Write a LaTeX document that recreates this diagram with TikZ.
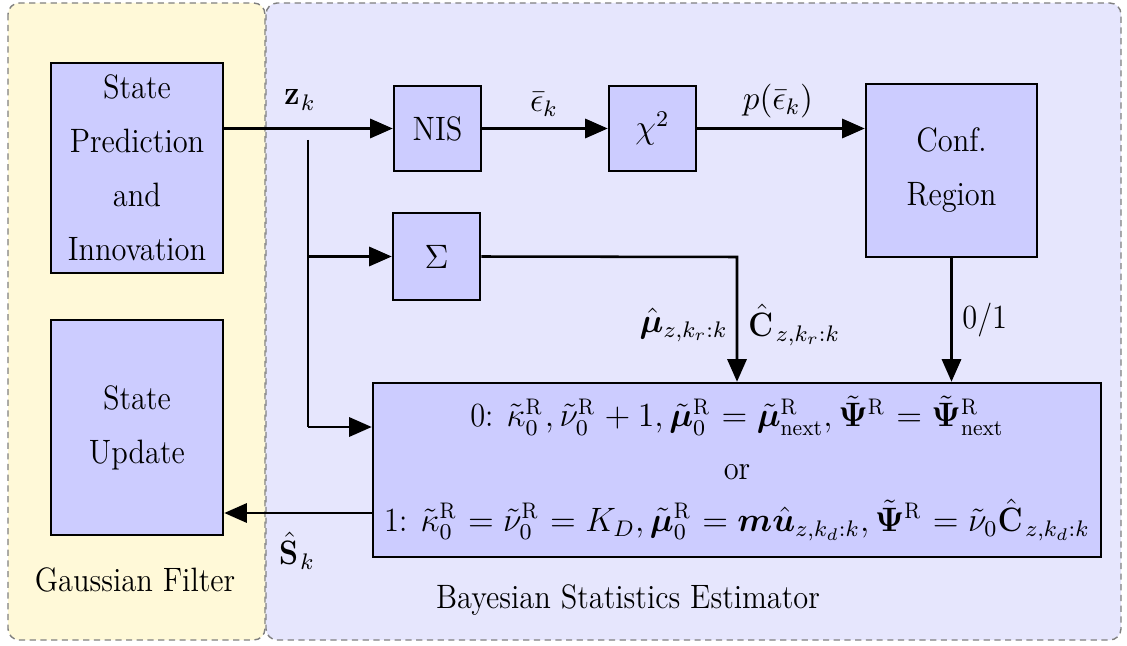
\documentclass[tikz,border=0pt]{standalone}
\usepackage{amsmath}
\usepackage{bm}
\usepackage{fontspec}
\setmainfont{Latin Modern Roman}[FakeStretch=0.9]
\usetikzlibrary{arrows.meta}
\definecolor{gfyellow}{RGB}{255,249,216}
\definecolor{bsblue}{RGB}{230,230,253}
\definecolor{boxblue}{RGB}{204,204,255}
\newcommand{\PsiR}{\smash[t]{\tilde{\bm{\Psi}}}^{\mathrm{R}}}
\tikzset{
  blk/.style={draw, line width=0.9pt, fill=boxblue, inner sep=0pt, align=center,
    font=\fontsize{12}{19.2}\selectfont},
  arr/.style={line width=0.9pt, -{Triangle[length=8pt,width=6.8pt]}},
  ln/.style={line width=0.9pt},
  region/.style={draw=gray, line width=0.5pt, dash pattern=on 2.2pt off 1.6pt, rounded corners=4pt},
  lbl/.style={font=\fontsize{12}{14}\selectfont, inner sep=1pt}
}
\begin{document}
\begin{tikzpicture}[x=0.3549pt, y=-0.3549pt]
\useasboundingbox (0,0) rectangle (1127,646);
% regions
\draw[region, fill=gfyellow] (8,3) rectangle (265,640);
\draw[region, fill=bsblue] (266,3) rectangle (1121,640);
% blocks
\node[blk, minimum width=172*0.3549pt, minimum height=210*0.3549pt] (sp) at (137,168) {State\\Prediction\\and\\Innovation};
\node[blk, minimum width=172*0.3549pt, minimum height=215*0.3549pt] (su) at (137,427.5) {State\\Update};
\node[blk, minimum width=87*0.3549pt, minimum height=85*0.3549pt] (nis) at (437.5,128.5) {NIS};
\node[blk, minimum width=87*0.3549pt, minimum height=85*0.3549pt] (chi) at (652.5,128.5) {$\chi^2$};
\node[blk, minimum width=171*0.3549pt, minimum height=173*0.3549pt] (conf) at (951.5,170.5) {Conf.\\Region};
\node[blk, minimum width=87*0.3549pt, minimum height=87*0.3549pt] (sig) at (436.5,256.5) {$\Sigma$};
\node[blk, minimum width=728*0.3549pt, minimum height=174*0.3549pt, font=\fontsize{12}{18.5}\selectfont] (big) at (737,470)
{0: $\tilde{\kappa}_0^{\mathrm{R}}, \tilde{\nu}_0^{\mathrm{R}}+1, \tilde{\bm{\mu}}_0^{\mathrm{R}} = \tilde{\bm{\mu}}^{\mathrm{R}}_{\text{next}}, \PsiR = \PsiR_{\text{next}}$\\
or\\
1: $\tilde{\kappa}_0^{\mathrm{R}} = \tilde{\nu}_0^{\mathrm{R}} = K_D, \tilde{\bm{\mu}}_0^{\mathrm{R}} = \bm{m}\hat{\bm{u}}_{z,k_d:k}, \PsiR = \tilde{\nu}_0\hat{\mathbf{C}}_{z,k_d:k}$};
% region labels
\node[lbl] (gf) at (135,580) {Gaussian Filter};
\node[lbl] (bse) at (628,600) {Bayesian Statistics Estimator};
% coordinates
\coordinate (jt) at (308,140);
\coordinate (jb) at (308,427);
\coordinate (sc) at (737,257);
\coordinate (sk) at (373,513);
% connectors
\draw[arr] (sp.east |- nis) -- (nis);
\draw[arr] (nis) -- (chi);
\draw[arr] (chi) -- (chi -| conf.west);
\draw[ln] (jt) -- (jb);
\draw[arr] (jb) -- (jb -| big.west);
\draw[arr] (jt |- sig) -- (sig);
\draw[arr] (sig.east) -- (sc) -- (sc |- big.north);
\draw[arr] (conf.south) -- (conf.south |- big.north);
\draw[arr] (sk) -- (sk -| su.east);
% labels
\node[lbl] (lz) at (300,100) {$\mathbf{z}_k$};
\node[lbl] (leps) at (544,104) {$\bar{\epsilon}_k$};
\node[lbl] (lp) at (778,101) {$p(\bar{\epsilon}_k)$};
\node[lbl, anchor=east] (lmu) at (731,325) {$\hat{\bm{\mu}}_{z,k_r:k}$};
\node[lbl, anchor=west] (lc) at (745,325) {$\hat{\mathbf{C}}_{z,k_r:k}$};
\node[lbl, anchor=west] (l01) at (959,320) {0/1};
\node[lbl] (lsk) at (297,551) {$\hat{\mathbf{S}}_k$};
\end{tikzpicture}
\end{document}
